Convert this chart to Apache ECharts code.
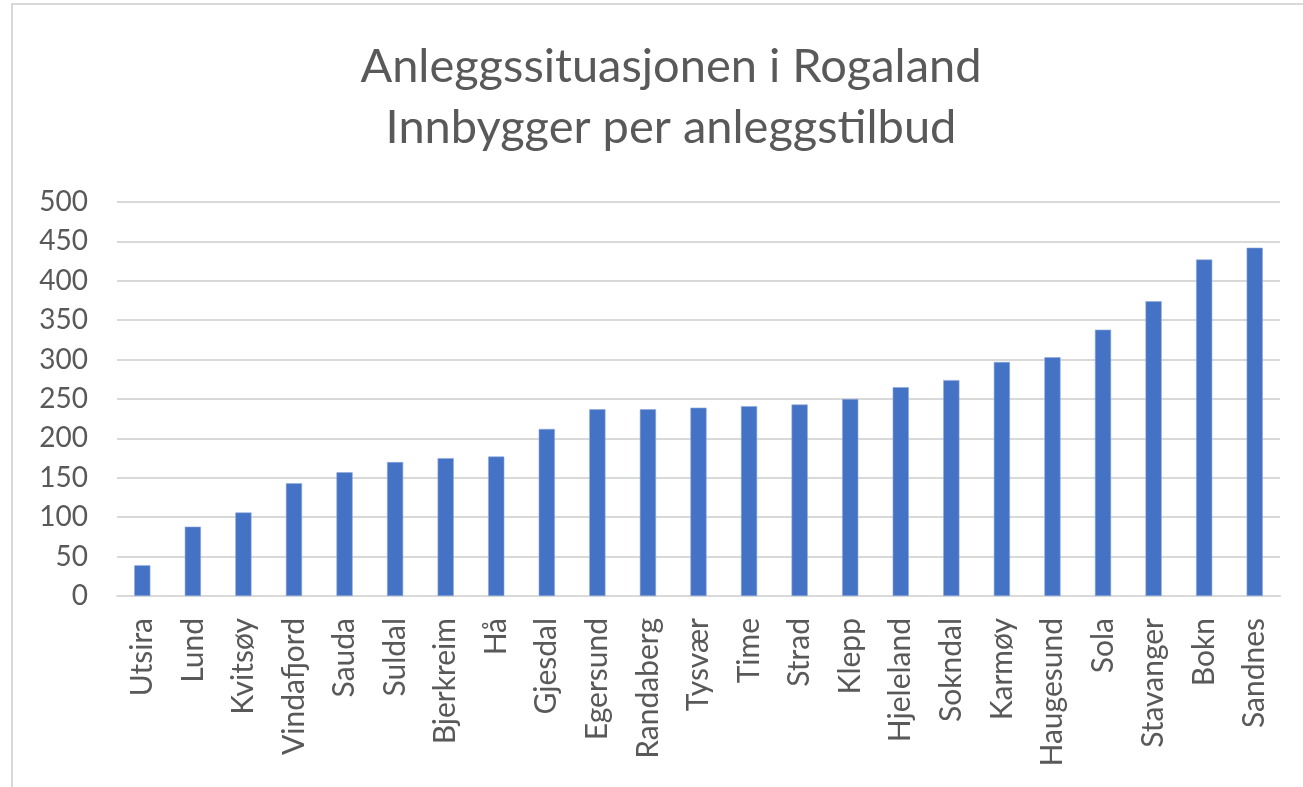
<!DOCTYPE html>
<html>
<head>
<meta charset="utf-8">
<script src="https://cdn.jsdelivr.net/npm/echarts@6/dist/echarts.min.js"></script>
<style>
  html, body { margin: 0; padding: 0; background: #fff; }
  #chart { position: absolute; left: 0; top: 0; width: 1303px; height: 787px; }
  #frame { position: absolute; left: 11px; top: 3px; right: 0; bottom: 0;
           border-left: 2px solid #d9d9d9; border-top: 2px solid #d9d9d9; pointer-events: none; }
</style>
</head>
<body>
<div id="chart"></div>
<div id="frame"></div>
<script>
// kommuner, sortert etter innbyggere per anlegg
const categories = ['Utsira', 'Lund', 'Kvitsøy', 'Vindafjord', 'Sauda', 'Suldal', 'Bjerkreim', 'Hå',
  'Gjesdal', 'Egersund', 'Randaberg', 'Tysvær', 'Time', 'Strad', 'Klepp', 'Hjeleland',
  'Sokndal', 'Karmøy', 'Haugesund', 'Sola', 'Stavanger', 'Bokn', 'Sandnes'];
const values = [39, 88, 106, 143, 157, 170, 175, 177,
  212, 237, 237, 239, 241, 243, 250, 265,
  274, 297, 303, 338, 374, 427, 442];
const titleLines = ['Anleggssituasjonen i Rogaland', 'Innbygger per anleggstilbud'];
const yMin = 0, yMax = 500, yStep = 50;

let myChart = echarts.init(document.getElementById('chart'));
const font = 'Lato, "Liberation Sans", sans-serif';
myChart.setOption({
  animation: false,
  title: {
    text: titleLines.join('\n'),
    // midten av tittelen ligger litt til høyre for midten av bildet
    left: 666,
    textAlign: 'center',
    top: 31,
    textStyle: {
      fontFamily: font,
      fontWeight: 'normal',
      fontSize: 47,
      lineHeight: 61,
      color: '#595959'
    }
  },
  grid: {
    left: 117,
    right: 23,
    top: 202,
    bottom: 191
  },
  xAxis: {
    type: 'category',
    data: categories,
    axisLine: { lineStyle: { color: '#d9d9d9', width: 2 } },
    axisTick: { show: false },
    axisLabel: {
      rotate: 90,
      interval: 0,
      margin: 22,
      fontFamily: font,
      fontSize: 30,
      color: '#595959'
    }
  },
  yAxis: {
    type: 'value',
    min: yMin,
    max: yMax,
    interval: yStep,
    axisLine: { show: false },
    axisTick: { show: false },
    splitLine: { lineStyle: { color: '#d9d9d9', width: 2 } },
    axisLabel: {
      margin: 29,
      fontFamily: font,
      fontSize: 28,
      color: '#595959'
    }
  },
  series: [{
    type: 'bar',
    data: values,
    barWidth: '32%',
    itemStyle: { color: '#4472c4', borderColor: '#8faadc', borderWidth: 0.6 }
  }]
});
</script>
</body>
</html>
